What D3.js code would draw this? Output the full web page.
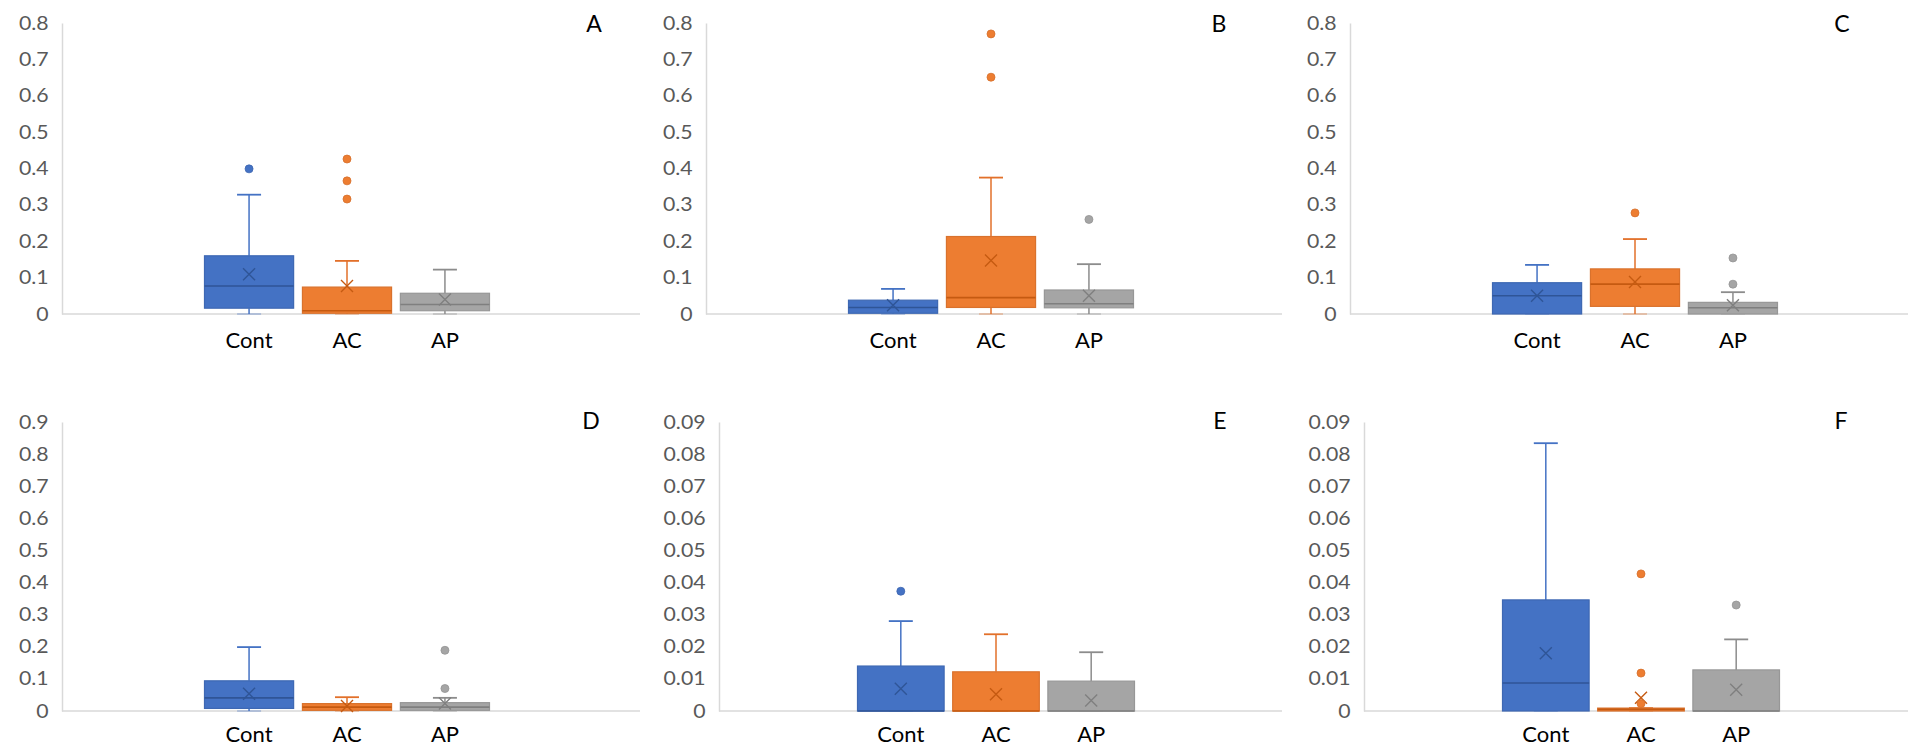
<!DOCTYPE html>
<html>
<head>
<meta charset="utf-8">
<script src="https://cdn.jsdelivr.net/npm/d3@7"></script>
<style>
  body { margin: 0; background: #fff; }
  svg { display: block; }
</style>
</head>
<body>
<script>
// categories
const series = ["Cont", "AC", "AP"];
const panels = ["A", "B", "C", "D", "E", "F"];
const yMax = [0.8, 0.8, 0.8, 0.9, 0.09, 0.09];
const tickCount = [8, 8, 8, 9, 9, 9];

// box stats, one row per panel: [Cont, AC, AP]
const whiskerLow = [
  [0, 0, 0], [0, 0, 0], [0, 0, 0],
  [0, 0, 0], [0, 0, 0], [0, 0, 0]
];
const q1 = [
  [0.016, 0.002, 0.009],
  [0.002, 0.018, 0.017],
  [0, 0.021, 0],
  [0.008, 0.002, 0.002],
  [0, 0, 0],
  [0, 0, 0]
];
const median = [
  [0.077, 0.009, 0.026],
  [0.018, 0.045, 0.028],
  [0.050, 0.082, 0.017],
  [0.041, 0.012, 0.012],
  [0, 0, 0],
  [0.0087, 0.0005, 0]
];
const q3 = [
  [0.160, 0.074, 0.057],
  [0.038, 0.213, 0.066],
  [0.086, 0.124, 0.032],
  [0.094, 0.023, 0.026],
  [0.0140, 0.0122, 0.0093],
  [0.0346, 0.0009, 0.0128]
];
const whiskerHigh = [
  [0.328, 0.146, 0.122],
  [0.069, 0.375, 0.137],
  [0.135, 0.206, 0.060],
  [0.199, 0.043, 0.041],
  [0.0280, 0.0239, 0.0183],
  [0.0834, 0.0009, 0.0223]
];
const mean = [
  [0.109, 0.077, 0.040],
  [0.024, 0.147, 0.050],
  [0.050, 0.088, 0.024],
  [0.054, 0.0155, 0.023],
  [0.0069, 0.0052, 0.0033],
  [0.0180, 0.0041, 0.0066]
];
const outliers = [
  [[0.399], [0.426, 0.366, 0.316], []],
  [[], [0.770, 0.651], [0.260]],
  [[], [0.278], [0.154, 0.082]],
  [[], [], [0.189, 0.070]],
  [[0.0373], [], []],
  [[], [0.0427, 0.0118, 0.0023], [0.0330]]
];

const fillColors = ["#4472C4", "#ED7D31", "#A5A5A5"];
const darkColors = ["#2F5597", "#C55A11", "#7F7F7F"];
const whiskColors = ["#4472C4", "#E2702A", "#8C8C8C"];

// layout of the six plot areas
const axisX = [62, 706, 1350, 62, 719, 1364];
const plotRight = [640, 1282, 1926, 640, 1282, 1926];
const groupW = [570, 570, 570, 570, 554, 554];
const topY = [23, 23, 23, 422, 422, 422];
const zeroY = [314, 314, 314, 711, 711, 711];
const labelPad = [18, 18, 18, 15, 15, 15];
const letterPos = [[594, 32], [1219, 32], [1842, 32], [591, 429], [1220, 429], [1841, 429]];

const width = 1908, height = 748;
const font = "Lato, 'Open Sans', sans-serif";

const svg = d3.select("body").append("svg")
  .attr("width", width)
  .attr("height", height)
  .attr("viewBox", [0, 0, width, height]);

svg.append("rect").attr("width", width).attr("height", height).attr("fill", "#fff");

panels.forEach((p, i) => {
  const g = svg.append("g");

  const y = d3.scaleLinear().domain([0, yMax[i]]).range([zeroY[i], topY[i]]);
  const xs = d3.scaleBand()
    .domain(series)
    .range([axisX[i] + groupW[i] * 0.25, axisX[i] + groupW[i] * 0.75])
    .paddingInner(0.09);
  const bw = xs.bandwidth();

  // y axis
  g.append("g")
    .attr("transform", `translate(${axisX[i]},0)`)
    .call(d3.axisLeft(y).ticks(tickCount[i]).tickSize(0).tickSizeOuter(0)
      .tickPadding(12).tickFormat(d3.format(".2~f")))
    .call(a => a.attr("font-family", font))
    .call(a => a.select(".domain").attr("stroke", "#D9D9D9").attr("stroke-width", 1.5))
    .call(a => a.selectAll("text")
      .attr("fill", "#595959")
      .attr("font-size", 19)
      .attr("transform", "scale(1.12,1)"));

  // x axis line
  g.append("line")
    .attr("x1", axisX[i]).attr("x2", plotRight[i])
    .attr("y1", y(0)).attr("y2", y(0))
    .attr("stroke", "#D9D9D9").attr("stroke-width", 1.5);

  // category labels
  g.append("g")
    .attr("transform", `translate(0,${y(0)})`)
    .call(d3.axisBottom(xs).tickSize(0).tickPadding(labelPad[i]))
    .call(a => a.attr("font-family", font))
    .call(a => a.select(".domain").remove())
    .call(a => a.selectAll("text").attr("fill", "#000").attr("font-size", 22));

  // panel letter
  g.append("text")
    .attr("x", letterPos[i][0]).attr("y", letterPos[i][1])
    .attr("text-anchor", "middle")
    .attr("font-family", font)
    .attr("font-size", 23)
    .attr("fill", "#000")
    .text(p);

  series.forEach((s, j) => {
    const cx = xs(s) + bw / 2;
    const cap = 12;
    const b = g.append("g");

    // whiskers
    b.append("line")
      .attr("x1", cx).attr("x2", cx)
      .attr("y1", y(q3[i][j])).attr("y2", y(whiskerHigh[i][j]))
      .attr("stroke", whiskColors[j]).attr("stroke-width", 1.5);
    b.append("line")
      .attr("x1", cx - cap).attr("x2", cx + cap)
      .attr("y1", y(whiskerHigh[i][j])).attr("y2", y(whiskerHigh[i][j]))
      .attr("stroke", whiskColors[j]).attr("stroke-width", 1.8);
    b.append("line")
      .attr("x1", cx).attr("x2", cx)
      .attr("y1", y(q1[i][j])).attr("y2", y(whiskerLow[i][j]))
      .attr("stroke", whiskColors[j]).attr("stroke-width", 1.5);
    b.append("line")
      .attr("x1", cx - cap).attr("x2", cx + cap)
      .attr("y1", y(whiskerLow[i][j])).attr("y2", y(whiskerLow[i][j]))
      .attr("stroke", whiskColors[j]).attr("stroke-width", 2)
      .attr("opacity", 0.3);

    // box
    b.append("rect")
      .attr("x", xs(s)).attr("width", bw)
      .attr("y", y(q3[i][j]))
      .attr("height", Math.max(1, y(q1[i][j]) - y(q3[i][j])))
      .attr("fill", fillColors[j])
      .attr("stroke", d3.color(fillColors[j]).darker(0.25))
      .attr("stroke-width", 1.2);

    // median
    b.append("line")
      .attr("x1", xs(s)).attr("x2", xs(s) + bw)
      .attr("y1", y(median[i][j])).attr("y2", y(median[i][j]))
      .attr("stroke", darkColors[j]).attr("stroke-width", 1.6);

    // mean marker
    const my = y(mean[i][j]), m = 6;
    b.append("path")
      .attr("d", `M${cx - m},${my - m}L${cx + m},${my + m}M${cx - m},${my + m}L${cx + m},${my - m}`)
      .attr("stroke", darkColors[j]).attr("stroke-width", 1.4).attr("fill", "none");

    // outliers
    b.selectAll("circle")
      .data(outliers[i][j])
      .join("circle")
      .attr("cx", cx)
      .attr("cy", d => y(d))
      .attr("r", 4)
      .attr("fill", fillColors[j])
      .attr("stroke", d3.color(fillColors[j]).darker(0.3))
      .attr("stroke-width", 0.8);
  });
});
</script>
</body>
</html>
